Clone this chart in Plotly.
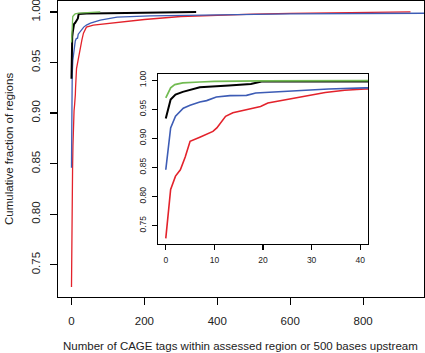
import plotly.graph_objects as go

# ---- data ----
red_x = [0, 1, 2, 3, 4, 5, 7, 8.5, 9.7, 10.5, 11.2, 12.3, 13.8, 16.6, 19.5, 21, 25, 28.6, 32.8, 36.8, 41,
         60, 100, 150, 200, 300, 400, 500, 600, 700, 800, 930]
red_y = [0.728, 0.812, 0.835, 0.846, 0.868, 0.895, 0.902, 0.908, 0.912, 0.918, 0.925, 0.938, 0.944, 0.9495,
         0.955, 0.961, 0.967, 0.9724, 0.979, 0.9828, 0.985,
         0.987, 0.9885, 0.990, 0.9925, 0.9955, 0.997, 0.9978, 0.9985, 0.999, 0.9995, 1.0]

blue_x = [0, 1, 2, 3.6, 5, 7, 8.4, 10.4, 13.2, 16.6, 18.5, 25, 33.5, 41, 52, 79, 125, 216, 389, 600, 967, 1100]
blue_y = [0.846, 0.918, 0.938, 0.952, 0.957, 0.9627, 0.965, 0.9713, 0.9736, 0.974, 0.978, 0.981, 0.985,
          0.987, 0.9889, 0.992, 0.9948, 0.996, 0.997, 0.998, 0.9987, 1.0]

black_x = [0, 1, 2, 3.5, 7, 9.7, 13, 17.5, 19.7, 30, 41, 100, 342]
black_y = [0.934, 0.9667, 0.9753, 0.980, 0.988, 0.989, 0.991, 0.9935, 0.998, 0.998, 0.9985, 0.9988, 1.0]

green_x = [0, 1, 1.85, 3.5, 7, 10, 20, 40, 79]
green_y = [0.9697, 0.987, 0.9926, 0.9955, 0.997, 0.998, 0.9988, 0.9992, 1.0]

main_xticks = [0, 200, 400, 600, 800]
inset_xticks = [0, 10, 20, 30, 40]
yticks = [0.75, 0.80, 0.85, 0.90, 0.95, 1.00]
ytick_text = ["0.75", "0.80", "0.85", "0.90", "0.95", "1.00"]

RED = "#e3222b"
BLUE = "#3d5cb5"
GREEN = "#72bb52"
BLACK = "#000000"

W, H = 425, 353
FONT = "Liberation Sans, Arial, Helvetica, sans-serif"

fig = go.Figure()

series = [(red_x, red_y, RED, 1.3, 1.6),
          (blue_x, blue_y, BLUE, 1.3, 1.6),
          (black_x, black_y, BLACK, 2.0, 2.0),
          (green_x, green_y, GREEN, 1.3, 1.7)]

for xs, ys, c, w_main, w_in in series:
    fig.add_trace(go.Scatter(x=xs, y=ys, mode="lines", line=dict(color=c, width=w_main),
                             xaxis="x", yaxis="y", showlegend=False, hoverinfo="skip"))
for xs, ys, c, w_main, w_in in series:
    fig.add_trace(go.Scatter(x=xs, y=ys, mode="lines", line=dict(color=c, width=w_in),
                             xaxis="x2", yaxis="y2", showlegend=False, hoverinfo="skip"))

def px_x(p):
    return p / W

def px_y(p):
    return (H - p) / H

axis_common = dict(showgrid=False, zeroline=False, showline=True, linecolor="black", linewidth=1.2,
                   mirror=True, ticks="outside", tickcolor="black", automargin=False,
                   ticklabeloverflow="allow")

fig.update_layout(
    width=W, height=H,
    margin=dict(l=0, r=0, t=0, b=0),
    paper_bgcolor="white", plot_bgcolor="white",
    font=dict(family=FONT, color="#222222"),
    xaxis=dict(domain=[px_x(58), px_x(424)], range=[-37, 967], tickvals=main_xticks,
               ticklen=7, tickwidth=1.2, tickfont=dict(size=11.5), ticklabelstandoff=6,
               anchor="y", **axis_common),
    yaxis=dict(domain=[px_y(297), px_y(1)], range=[0.7182, 1.0108], tickvals=yticks, ticktext=ytick_text,
               ticklen=7, tickwidth=1.2, tickfont=dict(size=11.5), tickangle=-90, ticklabelstandoff=5,
               anchor="x", **axis_common),
    xaxis2=dict(domain=[px_x(158), px_x(368)], range=[-1.6, 41.6], tickvals=inset_xticks,
                ticklen=5, tickwidth=1.2, tickfont=dict(size=8.5), ticklabelstandoff=3,
                anchor="y2", **axis_common),
    yaxis2=dict(domain=[px_y(244), px_y(74)], range=[0.7182, 1.0108], tickvals=yticks, ticktext=ytick_text,
                ticklen=5, tickwidth=1.2, tickfont=dict(size=8.5), tickangle=-90, ticklabelstandoff=2,
                anchor="x2", **axis_common),
    annotations=[
        dict(text="Number of CAGE tags within assessed region or 500 bases upstream",
             x=px_x(241), y=px_y(346), xref="paper", yref="paper", showarrow=False,
             font=dict(size=11.5, family=FONT, color="#222222"), xanchor="center", yanchor="middle"),
        dict(text="Cumulative fraction of regions",
             x=px_x(9), y=px_y(149), xref="paper", yref="paper", showarrow=False, textangle=-90,
             font=dict(size=11.5, family=FONT, color="#222222"), xanchor="center", yanchor="middle"),
    ],
)

fig.write_html("out.html", config={"displayModeBar": False, "staticPlot": True},
               post_script="document.body.style.margin='0px';document.body.style.overflow='hidden';")
